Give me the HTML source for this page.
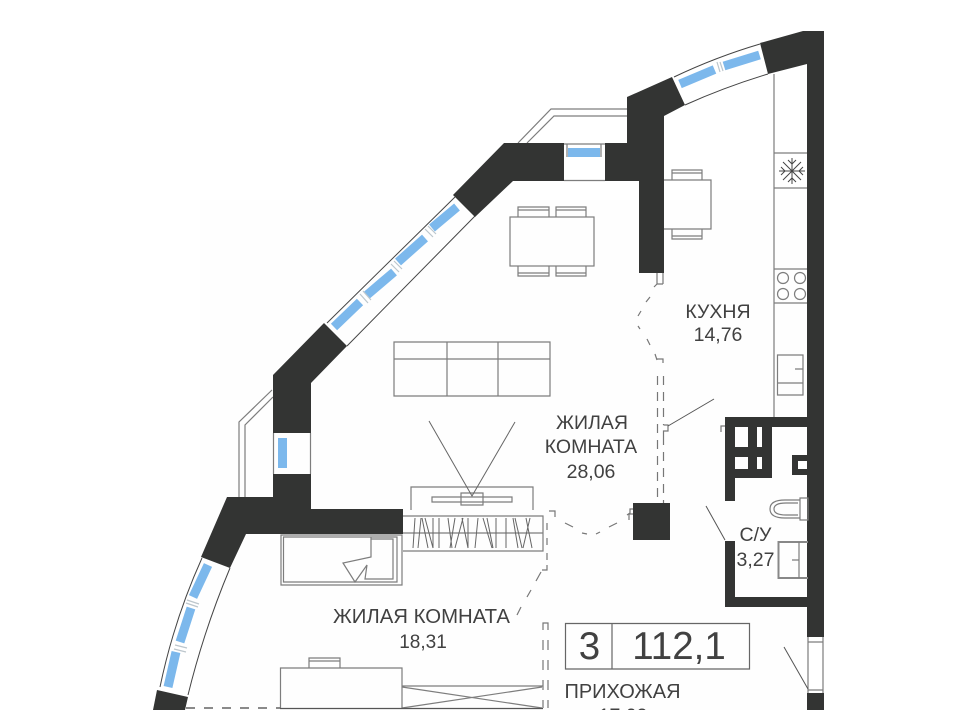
<!DOCTYPE html>
<html><head><meta charset="utf-8"><style>
html,body{margin:0;padding:0;background:#fff;width:960px;height:710px;overflow:hidden}
svg{display:block}
text{font-family:"Liberation Sans",sans-serif;fill:#414141}
.w{fill:#333433;stroke:none}
.l{fill:none;stroke:#7d7d7d;stroke-width:1.2}
.d{fill:none;stroke:#444;stroke-width:1}
.b{fill:none;stroke:#7cb8ec;stroke-width:9}
.t{fill:none;stroke:#bcc6cc;stroke-width:1.2}
.da{fill:none;stroke:#777;stroke-width:1.2}
</style></head><body>
<svg width="960" height="710" viewBox="0 0 960 710" xmlns="http://www.w3.org/2000/svg">
<rect width="960" height="710" fill="#fff"/>
<rect x="200" y="200" width="600" height="510" fill="#fefefe"/>

<!-- balcony rails -->
<path class="l" d="M518 143L551 109H627M527 143L554 116H627"/>
<path class="l" d="M239 497V422L272 390M245 497V425L273 397"/>

<!-- windows -->
<path class="d" d="M674 77Q716 57 760 44M685 105Q725 87 768 74"/>
<path class="b" d="M680 84L714.500 69.500"/>
<path class="b" d="M724 66L759.500 55"/>
<path class="t" d="M717 62L720 72M720 62L723 71"/>
<path class="l" d="M564 144H605M564 180.500H605M567 144V157M601 144V157"/>
<rect x="568" y="148" width="32" height="9" fill="#7cb8ec"/>
<path class="d" d="M455 197L327 323M475 216L347 346"/>
<path class="b" d="M334 327L360 302M367 295L394 272M398 262L425 238M432 228L457 207"/>
<path class="t" d="M360 294L368 303M363 291L371 300M394 261L402 269M391 264L399 272M425 229L433 237M428 226L436 234"/>
<path class="l" d="M273.500 433V474M310.500 433V474"/>
<rect x="278" y="438" width="9" height="30" fill="#7cb8ec"/>
<path class="d" d="M202 558Q174 620 160 687M230 568Q204 630 188 695"/>
<path class="b" d="M208 565L193 597M191 608L180 642M176 652L168 687"/>
<path class="t" d="M187 600L199 604M186 603L198 607M175 645L187 648M174 649L186 652"/>
<path class="l" d="M808 637V693M823 637V693M808 642H823M808 690H823"/>

<!-- walls -->
<polygon class="w" points="760,43 803,31 824,31 824,637 807,637 807,64 768,74"/>
<rect class="w" x="807" y="693" width="17" height="17"/>
<polygon class="w" points="672,77 685,105 664,116 664,273 639,273 639,181 605,181 605,143 627,143 627,97"/>
<polygon class="w" points="504,143 564,143 564,181 513,181 475,217 453,195"/>
<polygon class="w" points="324,323 347,346 311,383 311,433 273,433 273,375"/>
<polygon class="w" points="273,474 311,474 311,509 403,509 403,534 246,534 230,568 201,557 227,497 273,497"/>
<polygon class="w" points="157,690 188,697 185,710 153,710"/>
<!-- bathroom walls -->
<path class="w" fill-rule="evenodd" d="M725 417H808V427H772V478H735V501H725ZM735 427V447H748V427ZM757 427V447H762V427ZM735 457V469H748V457ZM757 457V469H762V457Z"/>
<path class="w" fill-rule="evenodd" d="M792 455H808V461H798V469H808V475H792Z"/>
<path class="w" d="M725 541H735V597H808V607H725Z"/>
<rect class="w" x="633" y="503" width="37" height="37"/>

<!-- kitchen -->
<path class="l" d="M774 74V417M774 153H807M774 188H807M774 269H807M774 303H807"/>
<g class="l"><circle cx="783" cy="278" r="5.500"/><circle cx="800" cy="278" r="5.500"/><circle cx="783" cy="294" r="5.500"/><circle cx="800" cy="294" r="5.500"/></g>
<path class="d" d="M792 158V184M779 171H805M783 162L801 180M801 162L783 180M788 160L792 164L796 160M788 182L792 178L796 182M781 167L785 171L781 175M803 167L799 171L803 175"/>
<path class="l" d="M777.500 355H803V395H777.500ZM777.500 383H803M795 369H803"/>
<!-- kitchen table -->
<path class="l" d="M664 180H711V229H664M672 180V170H702V180M672 173H702M672 229V239H702V229M672 236H702"/>
<!-- dining table -->
<rect class="l" x="510" y="217" width="84" height="49"/>
<path class="l" d="M518 217V207H549V217M518 210H549M556 217V207H586V217M556 210H586M518 266V276H549V266M518 273H549M556 266V276H586V266M556 273H586"/>
<!-- sofa -->
<path class="l" d="M394 342H550V396H394ZM394 359H550M447 342V396M498 342V396"/>
<!-- tv -->
<path class="l" d="M411 510V487H533V510M432 497H512V502H432ZM461 493H483V505H461Z"/>
<path class="d" d="M429 421L472 496L515 422" style="stroke:#666"/>
<!-- wardrobe -->
<path class="l" d="M403 516H543V551H403M403 533H543M543 516V551"/>
<path class="d" style="stroke:#666" d="M415 518L413 548M421 518L418 548M422 518L428 548M425 518L433 548M433 518V548M439 518V548M448 518L452 548M455 518L450 548M463 518L455 548M462 518L468 548M468 518V548M478 518L475 548M483 518L492 548M487 518L493 548M496 518V548M506 518V548M513 518L518 548M515 518L522 548M530 518L523 548M526 518L532 548"/>
<!-- balcony unit -->
<path class="l" d="M281 535H402V585H281ZM283.500 537H397V582H283.500ZM371 537V557L343 563L355 582L367 565L365 579H393V539H371"/>
<!-- lower room -->
<path class="l" d="M280.500 708V668H402V708M309 668V658H340V668M309 661H340M402 686H543M402 687L542 708M402 708L542 687"/>
<path d="M186 708H280" style="fill:none;stroke:#444;stroke-width:1.2;stroke-dasharray:9 9"/>
<path d="M280 708.500H543" style="fill:none;stroke:#555;stroke-width:1.2"/>

<!-- dashed doors -->
<path class="da" d="M657 273V284M663 273V284"/>
<path class="da" d="M657 284H663M657 284L654 287M650 297L646 302M641 311L638 316M638 326L640 329M647 339L650 345M655 354L657 360M657 359H663V363"/>
<path class="da" stroke-dasharray="9 7" d="M657.500 376V503M663.500 376V425M663.500 436V503"/>
<path class="da" d="M663.500 425H668V431H663.500V436"/>
<path class="d" style="stroke:#555" d="M714 399L668 426"/>
<path class="da" d="M549 511H555V517M565 523L573 527M582 533L587 534M596 534L600 532M609 527L617 523M627 515L630 513V509H633"/>
<path class="da" d="M547 523V530M547 538V545M547 553V560M547 565V570H542M541 572L536 581M531 590L527 597M521 607L517 615"/>
<path class="da" d="M543 630V623H548V630M543 640V650M548 640V650M543 660V670M548 660V670M543 680V690M548 680V690M543 700V708M548 700V708"/>
<path class="da" d="M721 432V426H725M633 514H629V520"/>
<path class="d" style="stroke:#555" d="M706 506L725 540M784 647L808 689"/>

<!-- bathroom fixtures -->
<path class="l" d="M800 498H808V520H800ZM800 500H785Q770 500 770 509Q770 518 785 518H800M798 503H786Q774 503 774 509Q774 515 786 515H798"/>
<path style="fill:none;stroke:#888;stroke-width:2" d="M808 542H778.500V578H808"/>
<path class="l" d="M799 542V578M792 560H799"/>

<!-- info box -->
<path style="fill:none;stroke:#666;stroke-width:1.2" d="M565.500 623.500H749.500V669H565.500ZM612 623.500V669"/>

<text x="718" y="318" font-size="19.500" text-anchor="middle">КУХНЯ</text>
<text x="718" y="341" font-size="19.500" text-anchor="middle">14,76</text>
<text x="592" y="429" font-size="19.500" text-anchor="middle">ЖИЛАЯ</text>
<text x="591" y="453" font-size="19.500" text-anchor="middle">КОМНАТА</text>
<text x="591" y="478" font-size="19.500" text-anchor="middle">28,06</text>
<text x="755.500" y="541" font-size="19.500" text-anchor="middle">С/У</text>
<text x="755.500" y="566" font-size="19.500" text-anchor="middle">3,27</text>
<text x="333" y="623" font-size="20" textLength="177" lengthAdjust="spacingAndGlyphs">ЖИЛАЯ КОМНАТА</text>
<text x="423" y="648" font-size="19" text-anchor="middle">18,31</text>
<text x="589.500" y="659" font-size="38.500" text-anchor="middle">3</text>
<text x="679" y="659" font-size="38.500" text-anchor="middle">112,1</text>
<text x="564.500" y="698" font-size="20" textLength="116" lengthAdjust="spacingAndGlyphs">ПРИХОЖАЯ</text>
<text x="623" y="722" font-size="19.500" text-anchor="middle">17,02</text>
</svg>
</body></html>
